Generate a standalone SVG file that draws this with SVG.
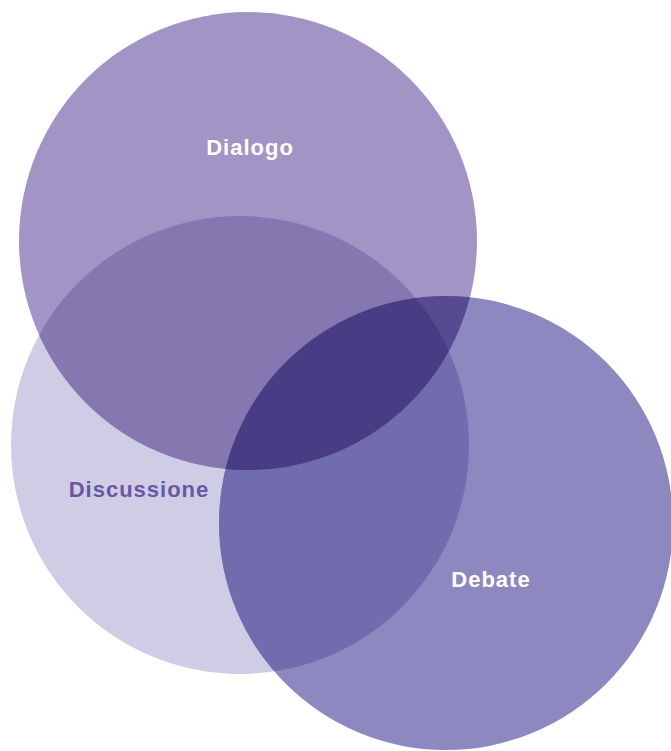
<svg xmlns="http://www.w3.org/2000/svg" width="671" height="751" viewBox="0 0 671 751">
  <style>
    .lbl { font-family: "Liberation Sans", Arial, sans-serif; font-weight: bold; font-size: 22px; letter-spacing: 1px; text-anchor: middle; }
  </style>
  <defs>
    <circle id="c-dial" cx="248" cy="241" r="229"/>
    <circle id="c-disc" cx="240" cy="445" r="229"/>
    <circle id="c-deb" cx="446" cy="523" r="227"/>
    <clipPath id="clip-dial"><use href="#c-dial"/></clipPath>
    <clipPath id="clip-deb"><use href="#c-deb"/></clipPath>
    <clipPath id="clip-dial-deb" clip-path="url(#clip-deb)"><use href="#c-dial"/></clipPath>
  </defs>
  <rect width="671" height="751" fill="#ffffff"/>

  <!-- circles -->
  <g id="discussione">
    <use href="#c-disc" fill="#CFCDE5"/>
  </g>
  <g id="dialogo">
    <use href="#c-dial" fill="#A295C6"/>
  </g>
  <g id="debate">
    <use href="#c-deb" fill="#8D88C0"/>
  </g>

  <!-- overlaps -->
  <g id="overlaps">
    <use href="#c-disc" fill="#8577B0" clip-path="url(#clip-dial)"/>
    <use href="#c-disc" fill="#716CAD" clip-path="url(#clip-deb)"/>
    <use href="#c-dial" fill="#574A91" clip-path="url(#clip-deb)"/>
    <use href="#c-disc" fill="#483D85" clip-path="url(#clip-dial-deb)"/>
  </g>

  <!-- labels -->
  <g id="labels">
    <text class="lbl" x="250" y="155" fill="#ffffff">Dialogo</text>
    <text class="lbl" x="139" y="497" fill="#6A56A6">Discussione</text>
    <text class="lbl" x="491" y="587" fill="#ffffff">Debate</text>
  </g>
</svg>
